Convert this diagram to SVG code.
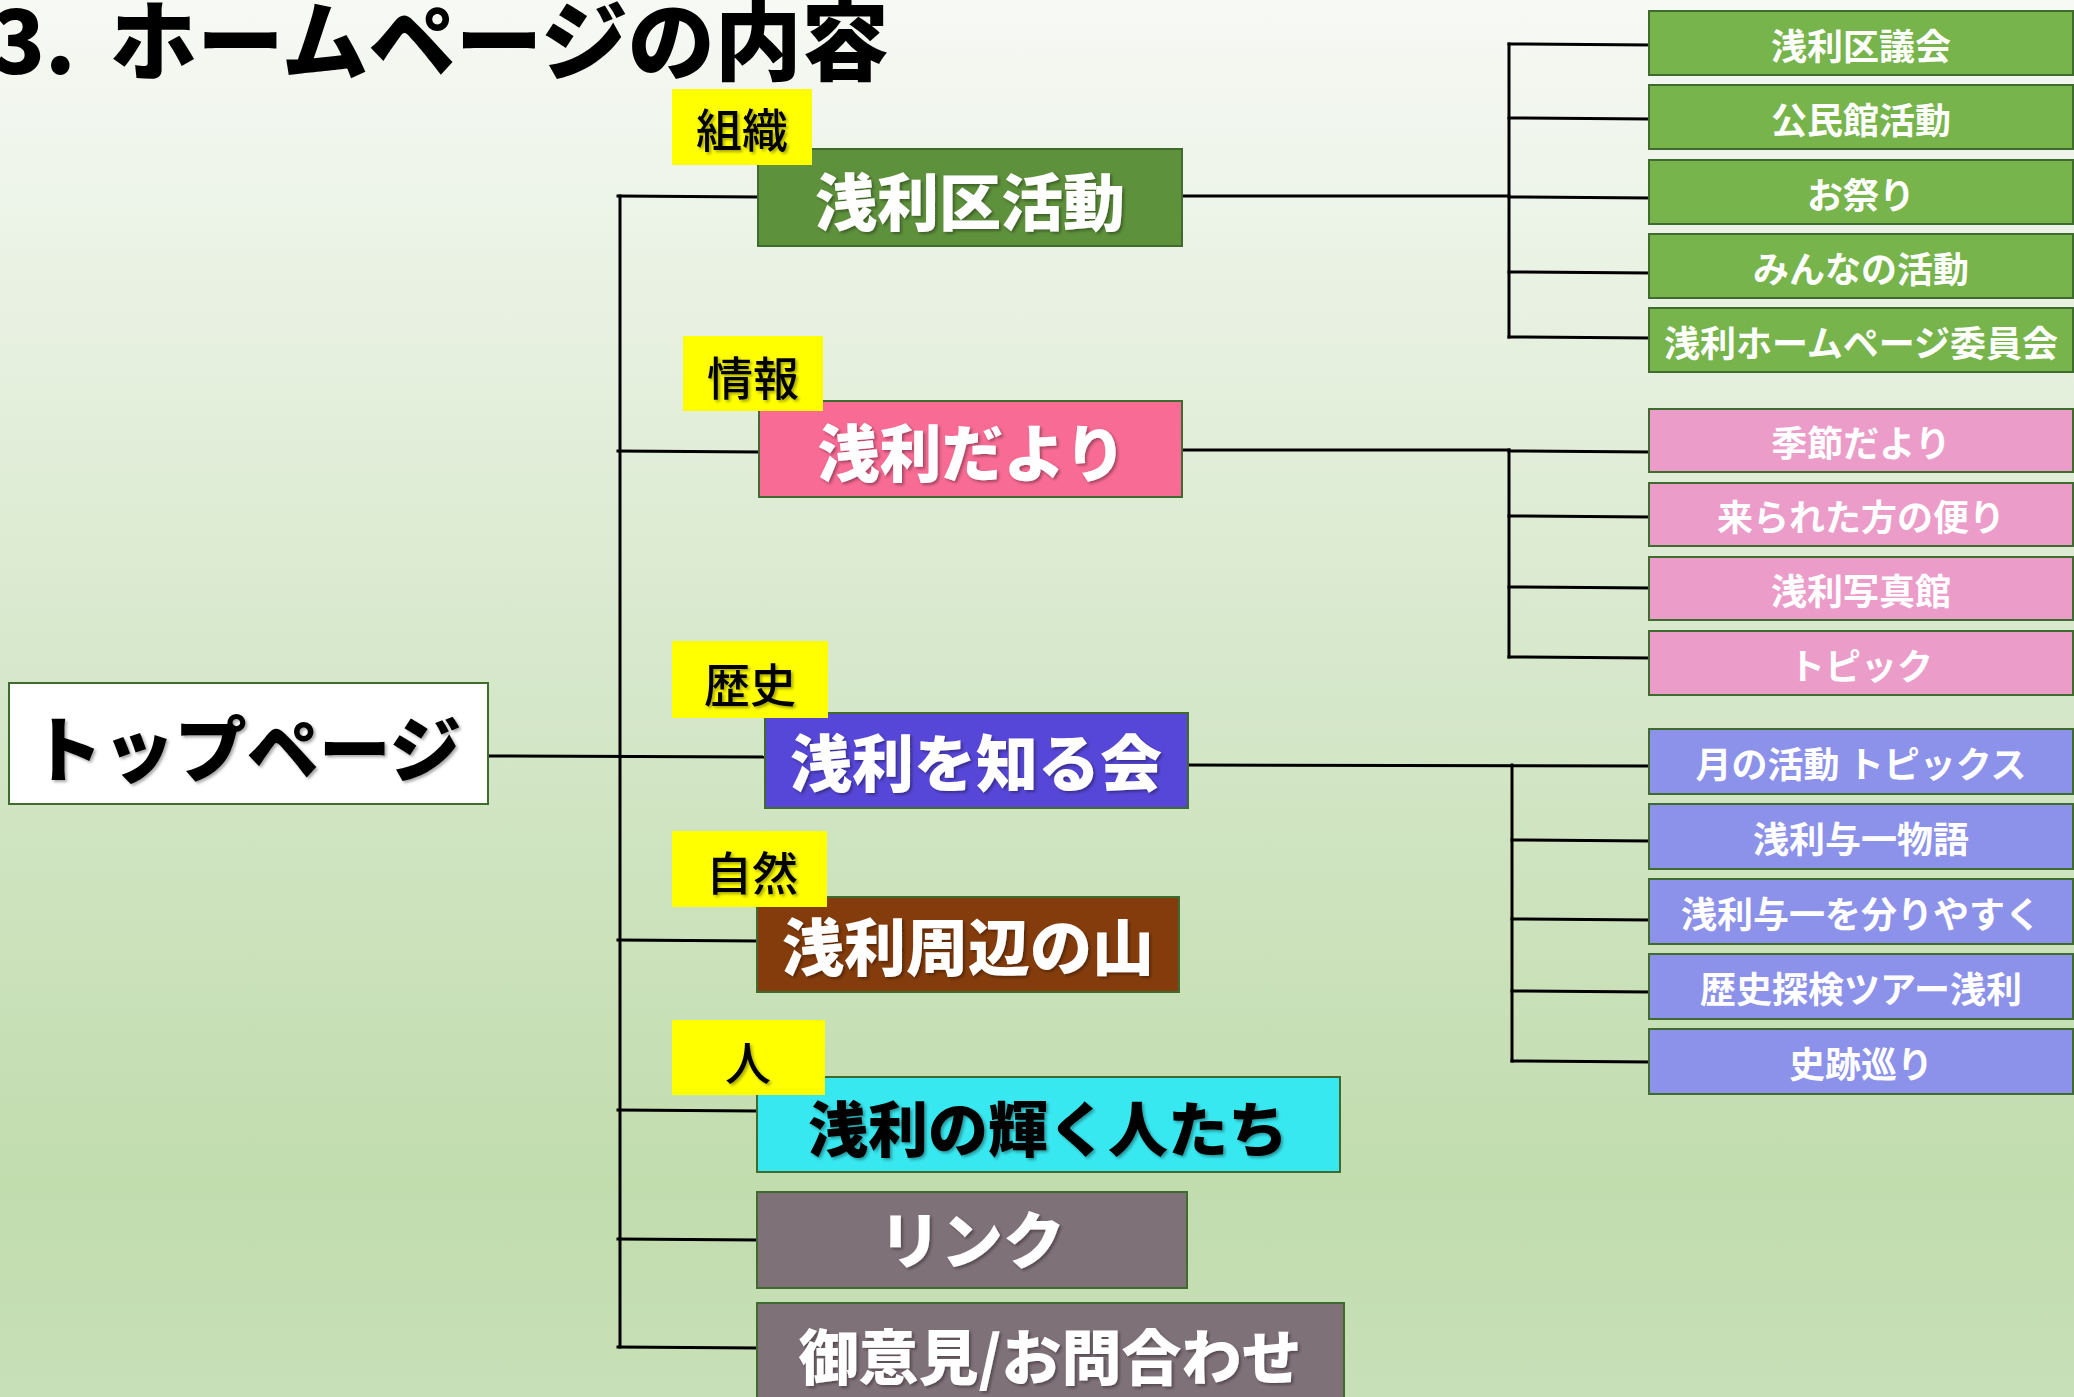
<svg xmlns="http://www.w3.org/2000/svg" width="2074" height="1397" viewBox="0 0 2074 1397">
  <defs>
    <linearGradient id="bg" x1="0" y1="0" x2="0" y2="1">
      <stop offset="0" stop-color="#f7f9f5"/>
      <stop offset="0.5" stop-color="#d5e7c9"/>
      <stop offset="0.85" stop-color="#c1dcad"/>
      <stop offset="1" stop-color="#c8e0b8"/>
    </linearGradient>
    <filter id="sh" x="-10%" y="-20%" width="120%" height="150%">
      <feDropShadow dx="2" dy="2" stdDeviation="1.5" flood-color="#000" flood-opacity="0.35"/>
    </filter>
  </defs>
  <style>
    text { font-family: "Noto Sans CJK JP", "Noto Sans", sans-serif; text-anchor: middle; }
    .title { font-size: 87px; font-weight: 900; fill: #000; text-anchor: start; }
    .box { stroke: #3f6b2e; stroke-width: 2; }
    .lab { fill: #ffff00; }
    .labt { font-size: 46px; font-weight: 500; fill: #000; }
    .cat { font-size: 62px; font-weight: 900; fill: #fff; }
    .sub { font-size: 36px; font-weight: 700; fill: #fff; }
    .conn line { stroke: #000; stroke-width: 3; stroke-linecap: square; }
  </style>
  <rect x="0" y="0" width="2074" height="1397" fill="url(#bg)"/>

  <text class="title" x="-8" y="74">3. <tspan x="110">ホームページの内容</tspan></text>

  <g id="connectors" class="conn">
    <line x1="620" y1="196" x2="620" y2="1347"/>
    <line x1="489" y1="756" x2="765" y2="757"/>
    <line x1="618" y1="196" x2="758" y2="197"/>
    <line x1="618" y1="451" x2="759" y2="452"/>
    <line x1="618" y1="940" x2="757" y2="941"/>
    <line x1="618" y1="1110" x2="757" y2="1111"/>
    <line x1="618" y1="1239" x2="757" y2="1240"/>
    <line x1="618" y1="1347" x2="757" y2="1348"/>

    <line x1="1182" y1="196" x2="1509" y2="196"/>
    <line x1="1509" y1="44" x2="1509" y2="337"/>
    <line x1="1509" y1="44" x2="1649" y2="45"/>
    <line x1="1509" y1="118" x2="1649" y2="119"/>
    <line x1="1509" y1="197" x2="1649" y2="198"/>
    <line x1="1509" y1="272" x2="1649" y2="273"/>
    <line x1="1509" y1="337" x2="1649" y2="338"/>

    <line x1="1182" y1="450" x2="1509" y2="450"/>
    <line x1="1509" y1="450" x2="1509" y2="657"/>
    <line x1="1509" y1="451" x2="1649" y2="452"/>
    <line x1="1509" y1="516" x2="1649" y2="517"/>
    <line x1="1509" y1="587" x2="1649" y2="588"/>
    <line x1="1509" y1="657" x2="1649" y2="658"/>

    <line x1="1188" y1="765" x2="1649" y2="766"/>
    <line x1="1512" y1="765" x2="1512" y2="1061"/>
    <line x1="1512" y1="840" x2="1649" y2="841"/>
    <line x1="1512" y1="919" x2="1649" y2="920"/>
    <line x1="1512" y1="991" x2="1649" y2="992"/>
    <line x1="1512" y1="1061" x2="1649" y2="1062"/>
  </g>

  <g id="top">
    <rect class="box" x="9" y="683" width="479" height="121" fill="#ffffff"/>
    <text x="246" y="776" style="font-size:72px;font-weight:900;fill:#000" filter="url(#sh)">トップページ</text>
  </g>

  <g id="cat-katsudo">
    <rect class="box" x="758" y="149" width="424" height="97" fill="#5e913c"/>
    <text class="cat" x="970" y="226" filter="url(#sh)">浅利区活動</text>
  </g>
  <g id="lab-soshiki">
    <rect class="lab" x="672" y="89" width="140" height="76"/>
    <text class="labt" x="742" y="147" filter="url(#sh)">組織</text>
  </g>

  <g id="cat-dayori">
    <rect class="box" x="759" y="401" width="423" height="96" fill="#f86b95"/>
    <text class="cat" x="972" y="477" filter="url(#sh)">浅利だより</text>
  </g>
  <g id="lab-joho">
    <rect class="lab" x="683" y="336" width="140" height="75"/>
    <text class="labt" x="753" y="395" filter="url(#sh)">情報</text>
  </g>

  <g id="cat-shirukai">
    <rect class="box" x="765" y="713" width="423" height="95" fill="#5747d8"/>
    <text class="cat" x="976" y="787" filter="url(#sh)">浅利を知る会</text>
  </g>
  <g id="lab-rekishi">
    <rect class="lab" x="672" y="641" width="156" height="77"/>
    <text class="labt" x="750" y="702" filter="url(#sh)">歴史</text>
  </g>

  <g id="cat-yama">
    <rect class="box" x="757" y="897" width="422" height="95" fill="#843c0c"/>
    <text class="cat" x="968" y="971" filter="url(#sh)">浅利周辺の山</text>
  </g>
  <g id="lab-shizen">
    <rect class="lab" x="672" y="831" width="155" height="76"/>
    <text class="labt" x="752" y="890" filter="url(#sh)">自然</text>
  </g>

  <g id="cat-hito">
    <rect class="box" x="757" y="1077" width="583" height="95" fill="#38e8f0"/>
    <text class="cat" x="1048" y="1152" style="fill:#000;font-size:60px" filter="url(#sh)">浅利の輝く人たち</text>
  </g>
  <g id="lab-hito">
    <rect class="lab" x="672" y="1020" width="153" height="75"/>
    <text class="labt" x="748" y="1080" filter="url(#sh)">人</text>
  </g>

  <g id="cat-link">
    <rect class="box" x="757" y="1192" width="430" height="96" fill="#7f7178"/>
    <text class="cat" x="972" y="1264" filter="url(#sh)">リンク</text>
  </g>

  <g id="cat-contact">
    <rect class="box" x="757" y="1303" width="587" height="110" fill="#7f7178"/>
    <text class="cat" x="1050" y="1380" style="font-size:60px" filter="url(#sh)">御意見/お問合わせ</text>
  </g>

  <g id="sub-gikai"><rect class="box" x="1649" y="11" width="424" height="64" fill="#77b44c"/><text class="sub" x="1861" y="60">浅利区議会</text></g>
  <g id="sub-kominkan"><rect class="box" x="1649" y="85" width="424" height="64" fill="#77b44c"/><text class="sub" x="1861" y="134">公民館活動</text></g>
  <g id="sub-matsuri"><rect class="box" x="1649" y="160" width="424" height="64" fill="#77b44c"/><text class="sub" x="1861" y="209">お祭り</text></g>
  <g id="sub-minna"><rect class="box" x="1649" y="234" width="424" height="64" fill="#77b44c"/><text class="sub" x="1861" y="283">みんなの活動</text></g>
  <g id="sub-iinkai"><rect class="box" x="1649" y="308" width="424" height="64" fill="#77b44c"/><text class="sub" x="1861" y="357">浅利ホームページ委員会</text></g>

  <g id="sub-kisetsu"><rect class="box" x="1649" y="409" width="424" height="63" fill="#eb9cc8"/><text class="sub" x="1861" y="457">季節だより</text></g>
  <g id="sub-korareta"><rect class="box" x="1649" y="483" width="424" height="63" fill="#eb9cc8"/><text class="sub" x="1861" y="531">来られた方の便り</text></g>
  <g id="sub-shashin"><rect class="box" x="1649" y="557" width="424" height="63" fill="#eb9cc8"/><text class="sub" x="1861" y="605">浅利写真館</text></g>
  <g id="sub-topic"><rect class="box" x="1649" y="631" width="424" height="64" fill="#eb9cc8"/><text class="sub" x="1861" y="680">トピック</text></g>

  <g id="sub-tsuki"><rect class="box" x="1649" y="729" width="424" height="65" fill="#8c91e9"/><text class="sub" x="1861" y="778">月の活動 トピックス</text></g>
  <g id="sub-monogatari"><rect class="box" x="1649" y="804" width="424" height="65" fill="#8c91e9"/><text class="sub" x="1861" y="853">浅利与一物語</text></g>
  <g id="sub-wakari"><rect class="box" x="1649" y="879" width="424" height="65" fill="#8c91e9"/><text class="sub" x="1861" y="928">浅利与一を分りやすく</text></g>
  <g id="sub-tour"><rect class="box" x="1649" y="954" width="424" height="65" fill="#8c91e9"/><text class="sub" x="1861" y="1003">歴史探検ツアー浅利</text></g>
  <g id="sub-shiseki"><rect class="box" x="1649" y="1029" width="424" height="65" fill="#8c91e9"/><text class="sub" x="1861" y="1078">史跡巡り</text></g>
</svg>
